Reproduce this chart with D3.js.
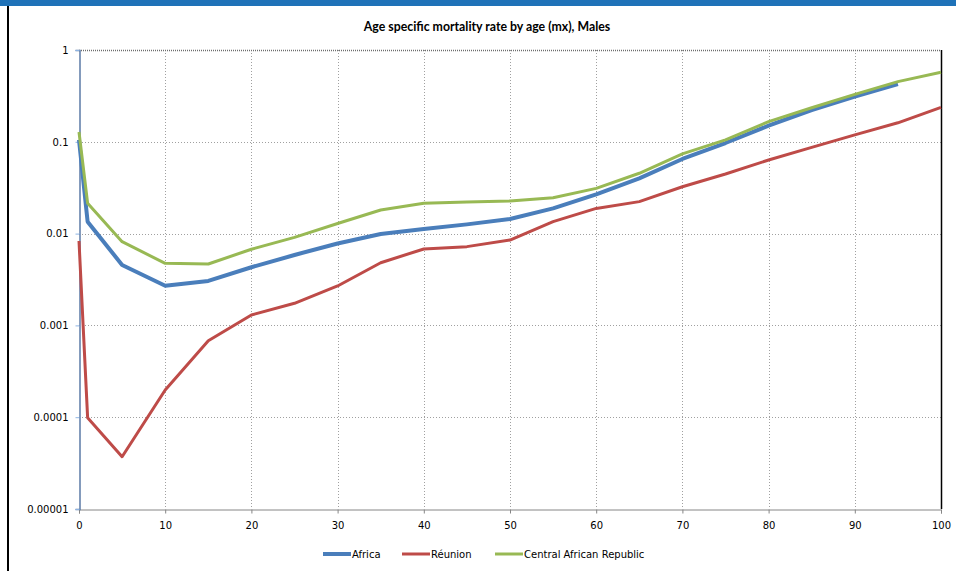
<!DOCTYPE html>
<html>
<head>
<meta charset="utf-8">
<script src="https://cdn.jsdelivr.net/npm/d3@7"></script>
<style>
  html, body { margin: 0; padding: 0; background: #fff; }
  svg { display: block; }
</style>
</head>
<body>
<svg id="chart" width="956" height="571"></svg>
<script>
const ages = [0, 1, 5, 10, 15, 20, 25, 30, 35, 40, 45, 50, 55, 60, 65, 70, 75, 80, 85, 90, 95, 100];
const africa = [0.105, 0.0135, 0.00455, 0.0027, 0.00305, 0.0043, 0.00585, 0.0078, 0.0099, 0.0112, 0.0126, 0.0144, 0.0188, 0.0268, 0.040, 0.065, 0.097, 0.150, 0.222, 0.310, 0.426, null];
const reunion = [0.0083, 0.0000988, 0.0000371, 0.000198, 0.00068, 0.0013, 0.00174, 0.00269, 0.00482, 0.0068, 0.00721, 0.0085, 0.0135, 0.0188, 0.0223, 0.0324, 0.0446, 0.0633, 0.087, 0.119, 0.161, 0.237];
const car = [0.128, 0.0214, 0.00817, 0.00474, 0.00467, 0.00675, 0.0091, 0.0129, 0.0181, 0.0214, 0.0221, 0.0227, 0.0246, 0.0311, 0.0454, 0.074, 0.105, 0.166, 0.235, 0.329, 0.452, 0.571];
const seriesNames = ["Africa", "Réunion", "Central African Republic"];
const seriesColors = ["#4a7ebb", "#be4b48", "#98b954"];
const xTicks = [0, 10, 20, 30, 40, 50, 60, 70, 80, 90, 100];
const yTicks = [1, 0.1, 0.01, 0.001, 0.0001, 0.00001];
const yTickLabels = ["1", "0.1", "0.01", "0.001", "0.0001", "0.00001"];
const chartTitle = "Age specific mortality rate by age (mx), Males";

(function () {
const svg = d3.select("#chart");
const W = 956, H = 571;
const pL = 79, pR = 941, pT = 50, pB = 509;

// frame decorations
svg.append("rect").attr("x", 0).attr("y", 0).attr("width", W).attr("height", 6).attr("fill", "#1f72b8");
svg.append("rect").attr("x", 7).attr("y", 6).attr("width", 2).attr("height", H - 6).attr("fill", "#000");

const x = d3.scaleLinear().domain([0, 100]).range([pL, pR]);
const y = d3.scaleLog().domain([0.00001, 1]).range([pB, pT]);

// gridlines
const grid = svg.append("g");
grid.selectAll("line.v").data(xTicks.filter(d => d > 0 && d < 100)).join("line")
  .attr("x1", d => Math.round(x(d)) + 0.5).attr("x2", d => Math.round(x(d)) + 0.5)
  .attr("y1", pT).attr("y2", pB)
  .attr("stroke", "#a0a0a0").attr("stroke-width", 1).attr("stroke-dasharray", "1,2");
grid.selectAll("line.h").data(yTicks.filter(d => d < 1 && d > 0.00001)).join("line")
  .attr("x1", pL).attr("x2", pR)
  .attr("y1", d => Math.round(y(d)) + 0.5).attr("y2", d => Math.round(y(d)) + 0.5)
  .attr("stroke", "#a0a0a0").attr("stroke-width", 1).attr("stroke-dasharray", "1,2");
// top line (gridline at 1)
svg.append("line").attr("x1", pL).attr("x2", pR).attr("y1", y(1) + 0.5).attr("y2", y(1) + 0.5)
  .attr("stroke", "#6e6e6e").attr("stroke-width", 1.5).attr("stroke-dasharray", "1,1");
// right border
svg.append("line").attr("x1", pR + 0.5).attr("x2", pR + 0.5).attr("y1", pT).attr("y2", pB)
  .attr("stroke", "#000").attr("stroke-width", 1.5);

// x axis
const xAxis = d3.axisBottom(x).tickValues(xTicks).tickSize(4).tickFormat(d3.format("d"));
const gx = svg.append("g").attr("transform", `translate(0,${pB + 0.5})`).call(xAxis);
gx.select(".domain").attr("stroke", "#868686");
gx.selectAll(".tick line").attr("stroke", "#868686");
gx.selectAll(".tick text").attr("font-family", "DejaVu Sans").attr("font-size", 10).attr("fill", "#000").attr("dy", "1.2em");

// y axis
const yAxis = d3.axisLeft(y).tickValues(yTicks).tickSize(4).tickFormat((d, i) => yTickLabels[i]);
const gy = svg.append("g").attr("transform", `translate(${pL + 0.5},0)`).call(yAxis);
gy.select(".domain").attr("stroke", "#5c7ba6").attr("stroke-width", 1.5);
gy.selectAll(".tick line").attr("stroke", "#8eb4e3");
gy.selectAll(".tick text").attr("font-family", "DejaVu Sans").attr("font-size", 10).attr("fill", "#000").attr("x", -11);

// lines
const all = [africa, reunion, car];
const widths = [4, 3, 3];
const line = d3.line().defined(d => d[1] != null).x(d => x(d[0])).y(d => y(d[1]));
[0, 1, 2].forEach(i => {
  svg.append("path")
    .datum(ages.map((a, j) => [a, all[i][j]]))
    .attr("fill", "none").attr("stroke", seriesColors[i])
    .attr("stroke-width", widths[i]).attr("stroke-linejoin", "round")
    .attr("d", line);
});

// title
svg.append("text").attr("x", 487).attr("y", 31).attr("text-anchor", "middle")
  .attr("font-family", "Lato").attr("font-weight", "bold").attr("font-size", 12.3).attr("fill", "#000")
  .text(chartTitle);

// legend
const legendX = [323, 402, 495];
const lg = svg.append("g");
seriesNames.forEach((n, i) => {
  lg.append("line").attr("x1", legendX[i]).attr("x2", legendX[i] + 28).attr("y1", 554).attr("y2", 554)
    .attr("stroke", seriesColors[i]).attr("stroke-width", widths[i]);
  lg.append("text").attr("x", legendX[i] + 29).attr("y", 558)
    .attr("font-family", "DejaVu Sans").attr("font-size", 10).attr("fill", "#000").text(n);
});
})();
</script>
</body>
</html>
